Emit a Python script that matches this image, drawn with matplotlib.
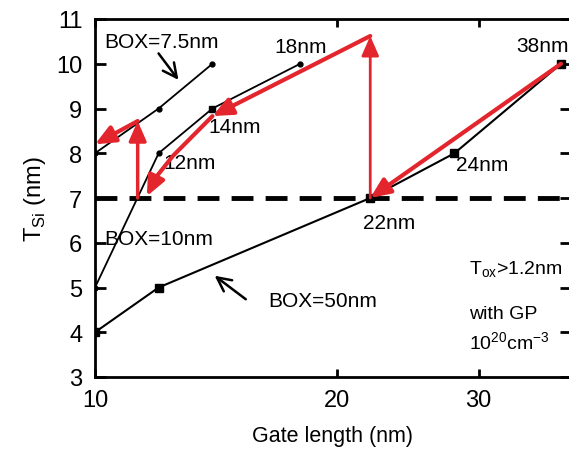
import numpy as np
import matplotlib.pyplot as plt
from matplotlib.ticker import NullLocator

plt.rcParams['font.family'] = ['Liberation Sans', 'DejaVu Sans']

# gate length (nm) and silicon thickness (nm) for each buried oxide thickness
box75_L = [10, 12, 14]
box75_T = [8, 9, 10]
box10_L = [10, 12, 14, 18]
box10_T = [5, 8, 9, 10]
box50_L = [10, 12, 22, 28, 38]
box50_T = [4, 5, 7, 8, 10]

# red design path (gate length, T_Si)
path1 = [(38, 10), (22, 7)]
path2 = [(22, 7), (22, 10.62)]
path3 = [(22, 10.62), (14, 8.83)]
path4_L = [14, 12.5, 11.94, 11.6]
path4_T = [8.83, 7.94, 7.49, 7.04]
path5 = [(11.3, 7), (11.3, 8.72)]
path6 = [(11.3, 8.72), (10, 8.2)]

red = '#e3262e'

fig = plt.figure(figsize=(5.69, 4.56), dpi=100)
ax = fig.add_axes([95/569, 1-378/456, (571-95)/569, (378-20)/456])

ax.set_xscale('log')
ax.set_xlim(10, 39.1)
ax.set_ylim(3, 11)

ax.axhline(7, color='black', lw=3.5, dashes=(4.5, 2.5), zorder=2)

ax.plot(box75_L, box75_T, '-', color='black', lw=1.3, marker='o', ms=3.5, zorder=3)
ax.plot(box10_L, box10_T, '-', color='black', lw=1.3, marker='o', ms=3.5, zorder=3)
ax.plot([14], [9], 's', color='black', ms=5, zorder=3)
ax.plot(box50_L, box50_T, '-', color='black', lw=1.5, marker='s', ms=6, zorder=3)


def red_arrow(p0, p1, lw=3.0, ms=24):
    ax.annotate('', xy=p1, xytext=p0,
                arrowprops=dict(arrowstyle='-|>,head_length=0.5,head_width=0.22',
                                color=red, lw=lw,
                                mutation_scale=ms, shrinkA=0, shrinkB=0),
                zorder=4)


red_arrow(*path1)
red_arrow(*path2, lw=2.0)
red_arrow(*path3)
ax.plot(path4_L[:-1], path4_T[:-1], color=red, lw=3.0, solid_capstyle='round', zorder=4)
red_arrow((path4_L[-2], path4_T[-2]), (path4_L[-1], path4_T[-1]))
red_arrow(*path5, lw=2.5)
red_arrow(*path6)

fs = 15
black_arrow = dict(arrowstyle='->,head_length=0.5,head_width=0.25', color='black',
                   lw=1.8, mutation_scale=20)
ax.text(12.1, 10.5, 'BOX=7.5nm', fontsize=fs, ha='center', va='center')
ax.annotate('', xy=(12.76, 9.59), xytext=(11.94, 10.28), arrowprops=black_arrow)
ax.text(18.0, 10.38, '18nm', fontsize=fs, ha='center', va='center')
ax.text(14.9, 8.6, '14nm', fontsize=fs, ha='center', va='center')
ax.text(13.1, 7.8, '12nm', fontsize=fs, ha='center', va='center')
ax.text(36.0, 10.4, '38nm', fontsize=fs, ha='center', va='center')
ax.text(30.3, 7.75, '24nm', fontsize=fs, ha='center', va='center')
ax.text(23.2, 6.45, '22nm', fontsize=fs, ha='center', va='center')
ax.text(12.0, 6.1, 'BOX=10nm', fontsize=fs, ha='center', va='center')
ax.text(19.2, 4.7, 'BOX=50nm', fontsize=fs, ha='center', va='center')
ax.annotate('', xy=(14.0, 5.3), xytext=(15.5, 4.7), arrowprops=black_arrow)
ax.text(29.2, 5.42, r'T$_{\mathregular{ox}}$>1.2nm', fontsize=14, ha='left', va='center')
ax.text(29.2, 4.42, 'with GP', fontsize=14, ha='left', va='center')
ax.text(29.2, 3.78, r'10$^{\mathregular{20}}$cm$^{\mathregular{-3}}$', fontsize=14,
        ha='left', va='center')

ax.set_xticks([10, 20, 30])
ax.set_xticklabels(['10', '20', '30'])
ax.xaxis.set_minor_locator(NullLocator())
ax.set_yticks(range(3, 12))
ax.tick_params(axis='y', direction='in', length=8, width=2, labelsize=17, pad=9,
               right=True)
ax.tick_params(axis='x', direction='in', length=6, width=2, labelsize=17, pad=9,
               top=True)
for s in ax.spines.values():
    s.set_linewidth(2)

ax.set_xlabel('Gate length (nm)', fontsize=15.5, labelpad=10)
ax.set_ylabel(r'T$_{\mathregular{Si}}$ (nm)', fontsize=17, labelpad=6)

fig.savefig('out.png', dpi=100)
